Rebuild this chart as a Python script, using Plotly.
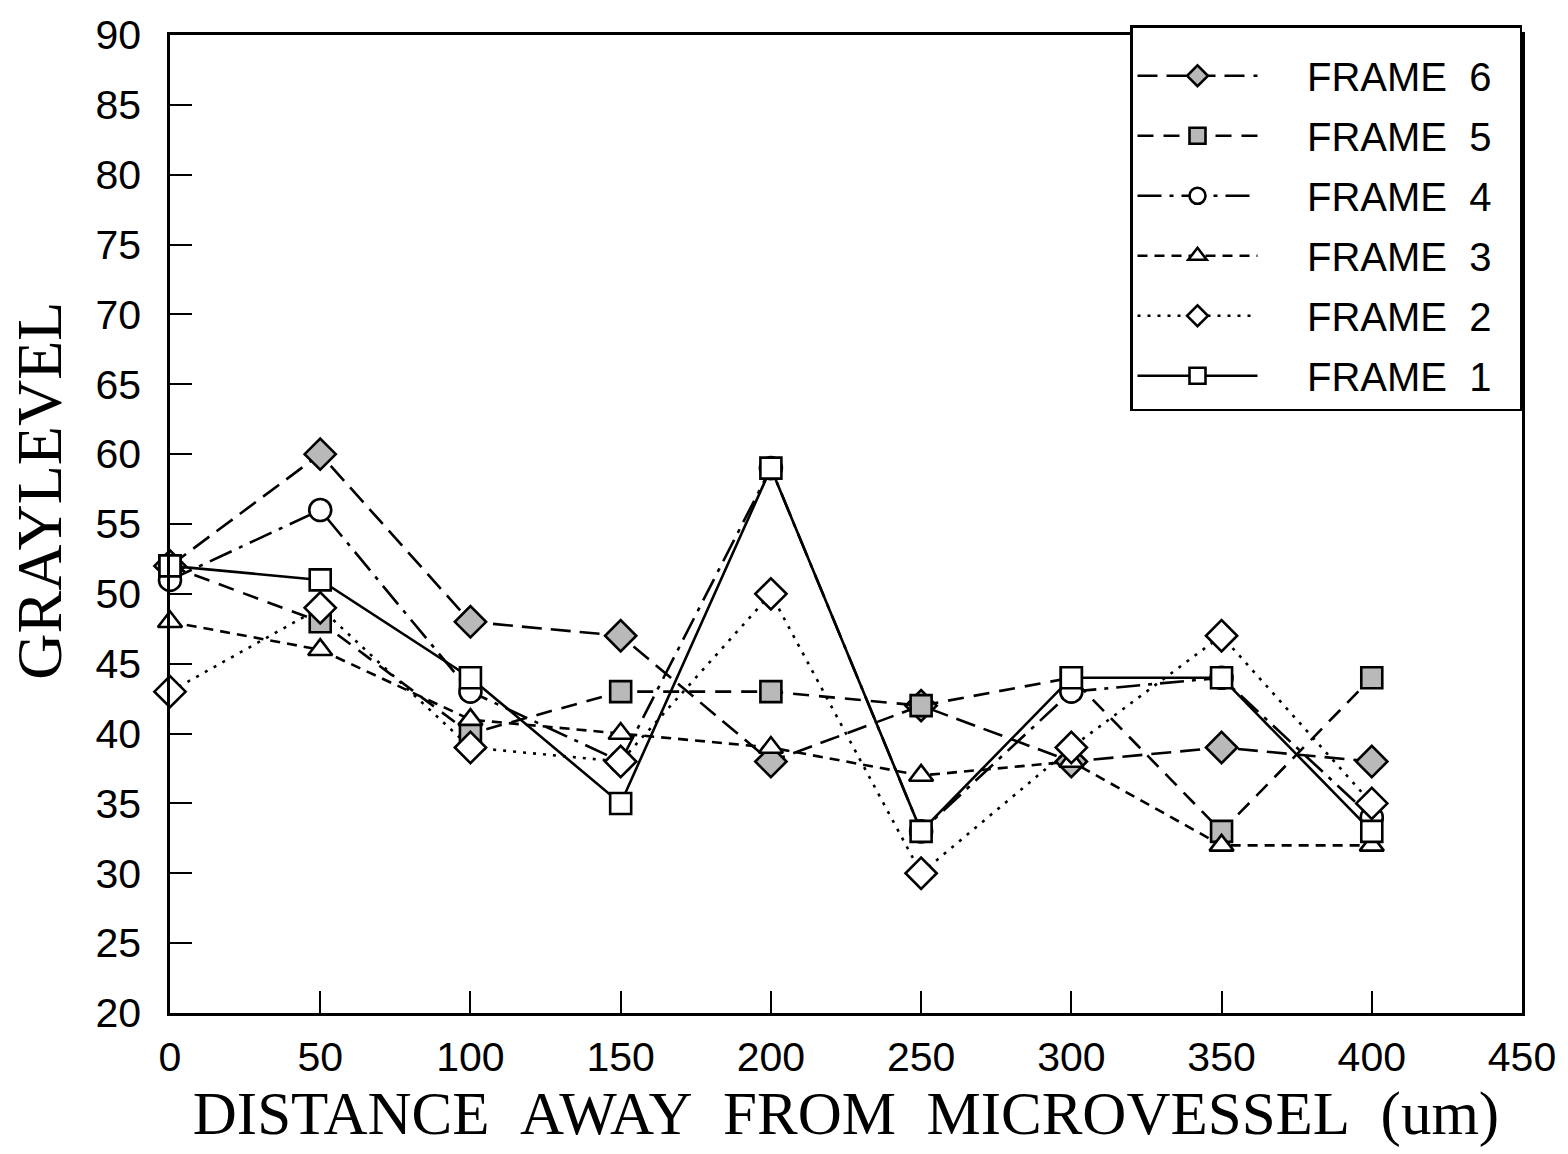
import plotly.graph_objects as go

# Distance from the microvessel (um) and measured gray levels per frame
distance = [0, 50, 100, 150, 200, 250, 300, 350, 400]

frame1 = [52, 51, 44, 35, 59, 33, 44, 44, 33]
frame2 = [43, 49, 39, 38, 50, 30, 39, 47, 35]
frame3 = [48, 46, 41, 40, 39, 37, 38, 32, 32]
frame4 = [51, 56, 43, 38, 59, 33, 43, 44, 34]
frame5 = [52, 48, 40, 43, 43, 42, 44, 33, 44]
frame6 = [52, 60, 48, 47, 38, 42, 38, 39, 38]

series_names = ["FRAME  6", "FRAME  5", "FRAME  4", "FRAME  3", "FRAME  2", "FRAME  1"]

x_ticks = [0, 50, 100, 150, 200, 250, 300, 350, 400, 450]
y_ticks = [20, 25, 30, 35, 40, 45, 50, 55, 60, 65, 70, 75, 80, 85, 90]

GRAY = "#b9b9b9"
BLACK = "black"

styles = [
    # (values, symbol, fill, dash)
    (frame6, "diamond", GRAY, "20px,9px"),
    (frame5, "square", GRAY, "16px,10px"),
    (frame4, "circle", "white", "24px,8px,4px,8px"),
    (frame3, "triangle-up", "white", "10px,7px"),
    (frame2, "diamond", "white", "3px,7px"),
    (frame1, "square", "white", "solid"),
]

sizes = {"diamond": 24, "square": 21, "circle": 22, "triangle-up": 21}


def legend_label(text):
    # pad the label so the legend box keeps some room around the text
    return "&nbsp;&nbsp;&nbsp;&nbsp;" + text.replace(" ", "&nbsp;") + "&nbsp;&nbsp;"


fig = go.Figure()
for i, (name, (vals, sym, fill, dash)) in enumerate(zip(series_names, styles)):
    fig.add_trace(go.Scatter(
        x=distance, y=vals, name=legend_label(name), mode="lines+markers",
        legendgroup=f"g{i}",
        line=dict(color=BLACK, width=2.6, dash=dash),
        marker=dict(symbol=sym, size=sizes[sym], color=fill,
                    line=dict(color=BLACK, width=2.6)),
        cliponaxis=False,
    ))

tick_font = dict(family="Liberation Sans, Arial, sans-serif", size=41, color=BLACK)
title_font = dict(family="Liberation Serif, Times New Roman, serif", size=61, color=BLACK)

fig.update_layout(
    width=1568, height=1154,
    margin=dict(l=170, r=46, t=25, b=141),
    paper_bgcolor="white", plot_bgcolor="white",
    showlegend=True,
    legend=dict(
        x=1, y=1.01, xanchor="right", yanchor="top",
        bordercolor=BLACK, borderwidth=2.5, bgcolor="white",
        font=dict(family="Liberation Sans, Arial, sans-serif", size=40, color=BLACK),
        itemwidth=120, traceorder="grouped", tracegroupgap=5,
        title=dict(text=" ", font=dict(size=12)),
    ),
    xaxis=dict(
        range=[0, 450], tickmode="array", tickvals=x_ticks,
        ticks="inside", ticklen=22, tickwidth=2, tickcolor=BLACK,
        showline=True, linecolor=BLACK, linewidth=2.5, mirror=True,
        showgrid=False, zeroline=False, tickfont=tick_font,
        ticklabelstandoff=6,
        title=dict(text="DISTANCE&nbsp;&nbsp;AWAY&nbsp;&nbsp;FROM&nbsp;&nbsp;MICROVESSEL&nbsp;&nbsp;(um)",
                   font=title_font, standoff=2),
    ),
    yaxis=dict(
        range=[20, 90], tickmode="array", tickvals=y_ticks,
        ticks="inside", ticklen=22, tickwidth=2, tickcolor=BLACK,
        showline=True, linecolor=BLACK, linewidth=2.5, mirror=True,
        showgrid=False, zeroline=False, tickfont=tick_font,
        ticklabelstandoff=18,
    ),
    annotations=[dict(
        text="GRAYLEVEL", textangle=-90,
        font=dict(family="Liberation Serif, Times New Roman, serif", size=64, color=BLACK),
        xref="paper", yref="paper", x=0, xanchor="center", xshift=-130,
        y=0.534, yanchor="middle", showarrow=False,
    )],
)

fig.write_html("out.html")
